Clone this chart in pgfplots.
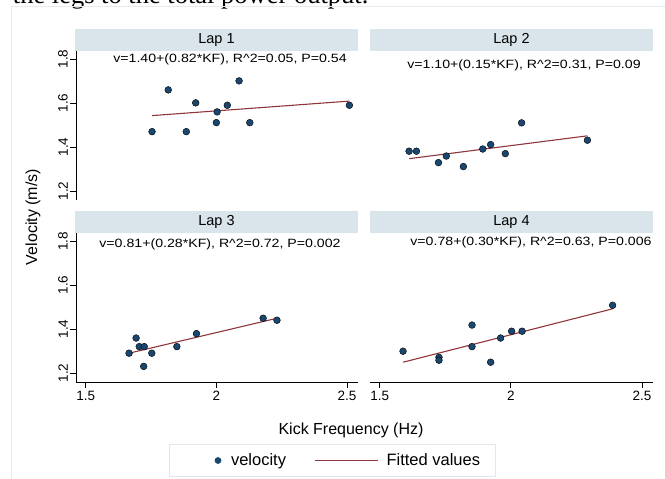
\documentclass[border=0pt]{standalone}
\usepackage{fontspec}
\setmainfont{Liberation Sans}
\newfontfamily\seriffont{Liberation Serif}
\usepackage{pgfplots}
\pgfplotsset{compat=1.18}
\definecolor{navy}{HTML}{1A476F}
\definecolor{maroon}{HTML}{90353B}
\definecolor{hdr}{HTML}{D9E5EB}
\definecolor{framegray}{HTML}{E6EBEC}
\definecolor{legbord}{HTML}{E2E8EA}
\newcommand\hdrfont{\fontsize{14.5}{16}\selectfont}
\newcommand\eqfont{\fontsize{12}{14}\selectfont}
\newcommand\tickfont{\fontsize{13.5}{15}\selectfont}
\newcommand\labfont{\fontsize{16}{18}\selectfont}
\newcommand\legfont{\fontsize{16.5}{18}\selectfont}

\pgfplotsset{
  panel/.style={
    scale only axis, width=282pt, height=149pt,
    xmin=1.463, xmax=2.542, ymin=1.159, ymax=1.837,
    xtick={1.5,2,2.5}, ytick={1.2,1.4,1.6,1.8},
    tick align=outside, major tick length=6pt,
    tick style={black, line width=0.8pt},
    axis line style={black, line width=0.9pt},
    tick label style={font=\tickfont},
    /pgf/number format/assume math mode=true,
    yticklabel style={rotate=90, anchor=south, inner sep=2pt,
      /pgf/number format/fixed, /pgf/number format/fixed zerofill, /pgf/number format/precision=1},
    clip=false,
  },
  dots/.style={only marks, mark=*, mark size=3.4pt, mark options={draw=none, fill=navy}},
  fit/.style={maroon, line width=1.1pt, no marks},
}

\begin{document}
\begin{tikzpicture}[x=1pt,y=1pt]
\useasboundingbox (0,0) rectangle (665,479);

% cut-off document text and outer frame
\begin{scope}
\clip (0,0) rectangle (665,479);
\node[anchor=base west, inner sep=0pt, font=\seriffont\fontsize{26.5}{30}\selectfont] at (12.7,475.5) {the legs to the total power output.};
\end{scope}
\draw[framegray, line width=1pt] (11,0) -- (11,472) -- (665,472);

% Lap 1
\begin{axis}[panel, at={(76pt,279pt)}, anchor=south west, hide x axis, axis y line*=left]
\addplot[dots] coordinates {(1.754,1.470)(1.816,1.660)(1.885,1.470)(1.921,1.601)(2.000,1.511)(2.003,1.560)(2.042,1.590)(2.087,1.701)(2.128,1.511)(2.509,1.590)};
\addplot[fit] coordinates {(1.754,1.543)(2.509,1.609)};
\end{axis}

% Lap 2
\begin{axis}[panel, width=283pt, at={(370pt,279pt)}, anchor=south west, hide x axis, hide y axis]
\addplot[dots] coordinates {(1.612,1.381)(1.640,1.381)(1.724,1.329)(1.754,1.359)(1.819,1.311)(1.893,1.391)(1.923,1.411)(1.979,1.370)(2.041,1.510)(2.292,1.431)};
\addplot[fit] coordinates {(1.612,1.347)(2.292,1.451)};
\end{axis}

% Lap 3 (carries the legend)
\begin{axis}[panel, at={(76pt,97pt)}, anchor=south west, axis y line*=left, axis x line*=bottom,
  legend columns=2,
  legend style={at={(0.908,-0.527)}, anchor=center, draw=legbord, line width=0.8pt, fill=white,
    inner xsep=15pt, inner ysep=7pt, font=\legfont, nodes={inner xsep=0pt},
    /tikz/every even column/.append style={column sep=28pt}},
  legend cell align=left]
\addplot[dots, legend image code/.code={\path[draw=none,fill=none] (0pt,0pt) -- (47pt,0pt); \fill[navy, draw=none] (34pt,0pt) circle (3.4pt);}]
  coordinates {(1.666,1.290)(1.693,1.359)(1.705,1.320)(1.724,1.320)(1.722,1.230)(1.753,1.290)(1.849,1.320)(1.924,1.379)(2.179,1.449)(2.232,1.440)};
\addlegendentry{velocity}
\addplot[fit, legend image code/.code={\path[draw=none] (0pt,0pt) -- (72pt,0pt); \draw[maroon, line width=1.1pt] (0pt,0pt) -- (63pt,0pt);}]
  coordinates {(1.666,1.290)(2.232,1.449)};
\addlegendentry{Fitted values}
\end{axis}

% Lap 4
\begin{axis}[panel, width=283pt, at={(370pt,97pt)}, anchor=south west, hide y axis, axis x line*=bottom]
\addplot[dots] coordinates {(1.589,1.299)(1.726,1.271)(1.726,1.258)(1.852,1.418)(1.852,1.320)(1.923,1.249)(1.961,1.359)(2.003,1.390)(2.043,1.390)(2.388,1.508)};
\addplot[fit] coordinates {(1.589,1.249)(2.388,1.492)};
\end{axis}

% panel headers
\fill[hdr] (75,428) rectangle (358,450);
\fill[hdr] (370,428) rectangle (653,450);
\fill[hdr] (75,246) rectangle (358,268);
\fill[hdr] (370,246) rectangle (653,268);
\node[font=\hdrfont] at (216.5,439) {Lap 1};
\node[font=\hdrfont] at (511.5,439) {Lap 2};
\node[font=\hdrfont] at (216.5,257) {Lap 3};
\node[font=\hdrfont] at (511.5,257) {Lap 4};

% regression annotations
\node[font=\eqfont, inner sep=0pt] at (230,419.5) {\scalebox{1.18}[1]{v=1.40+(0.82*KF), R\^{}2=0.05, P=0.54}};
\node[font=\eqfont, inner sep=0pt] at (524,414) {\scalebox{1.18}[1]{v=1.10+(0.15*KF), R\^{}2=0.31, P=0.09}};
\node[font=\eqfont, inner sep=0pt] at (220,235) {\scalebox{1.18}[1]{v=0.81+(0.28*KF), R\^{}2=0.72, P=0.002}};
\node[font=\eqfont, inner sep=0pt] at (531,236.2) {\scalebox{1.18}[1]{v=0.78+(0.30*KF), R\^{}2=0.63, P=0.006}};

% axis titles
\node[font=\labfont, rotate=90] at (33,262) {Velocity (m/s)};
\node[font=\labfont] at (351,49) {Kick Frequency (Hz)};
\end{tikzpicture}
\end{document}
